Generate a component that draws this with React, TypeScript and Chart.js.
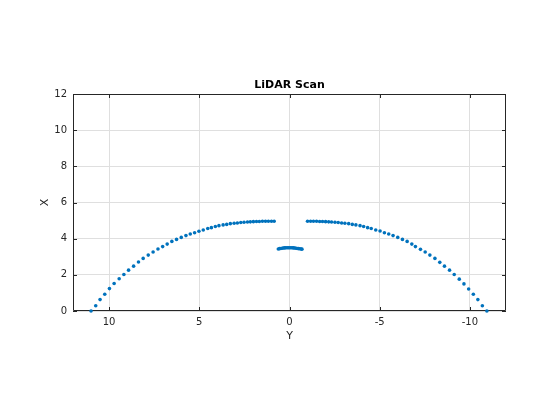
import React, { useEffect, useRef } from "react";
import { Chart, registerables } from "chart.js";

Chart.register(...registerables);

// Left wall arc (Y, X)
const leftY = [11.0, 10.74, 10.5, 10.24, 9.98, 9.72, 9.44, 9.18, 8.92, 8.64, 8.37, 8.11, 7.83, 7.56, 7.29, 7.03, 6.78, 6.52, 6.26, 6.0, 5.74, 5.5, 5.26, 5.02, 4.78, 4.53, 4.33, 4.11, 3.91, 3.68, 3.48, 3.28, 3.07, 2.89, 2.7, 2.52, 2.33, 2.17, 2.0, 1.83, 1.67, 1.5, 1.33, 1.17, 1.0, 0.85];
const leftX = [0.0, 0.29, 0.63, 0.93, 1.24, 1.52, 1.78, 2.02, 2.26, 2.48, 2.71, 2.91, 3.09, 3.26, 3.43, 3.56, 3.7, 3.85, 3.96, 4.07, 4.17, 4.26, 4.33, 4.41, 4.48, 4.56, 4.61, 4.67, 4.72, 4.76, 4.79, 4.83, 4.85, 4.87, 4.89, 4.91, 4.92, 4.93, 4.94, 4.95, 4.95, 4.96, 4.96, 4.96, 4.96, 4.96];

// Right wall arc (Y, X)
const rightY = [-1.0, -1.17, -1.33, -1.5, -1.67, -1.83, -2.0, -2.17, -2.33, -2.52, -2.7, -2.89, -3.07, -3.28, -3.48, -3.68, -3.91, -4.11, -4.33, -4.53, -4.78, -5.02, -5.26, -5.5, -5.74, -6.0, -6.26, -6.52, -6.78, -6.98, -7.26, -7.52, -7.78, -8.06, -8.33, -8.59, -8.87, -9.13, -9.41, -9.67, -9.93, -10.19, -10.44, -10.69, -10.94];
const rightX = [4.96, 4.96, 4.96, 4.96, 4.95, 4.95, 4.94, 4.93, 4.92, 4.91, 4.89, 4.87, 4.85, 4.83, 4.79, 4.76, 4.72, 4.67, 4.61, 4.56, 4.48, 4.42, 4.33, 4.26, 4.17, 4.07, 3.96, 3.85, 3.7, 3.56, 3.41, 3.26, 3.09, 2.91, 2.69, 2.48, 2.26, 2.02, 1.76, 1.5, 1.22, 0.93, 0.63, 0.29, 0.0];

// Small object in front
const midY = [0.62, 0.55, 0.48, 0.41, 0.34, 0.27, 0.2, 0.13, 0.06, -0.01, -0.08, -0.15, -0.22, -0.29, -0.36, -0.43, -0.5, -0.57, -0.64, -0.69];
const midX = [3.43, 3.45, 3.46, 3.47, 3.48, 3.49, 3.5, 3.5, 3.5, 3.5, 3.5, 3.5, 3.49, 3.48, 3.47, 3.46, 3.45, 3.44, 3.43, 3.42];

const xTicks = [10, 5, 0, -5, -10];
const yTicks = [0, 2, 4, 6, 8, 10, 12];

const titleText = "LiDAR Scan";
const xLabel = "Y";
const yLabel = "X";

const FONT = '"DejaVu Sans", sans-serif';
const TEXT = "#262626";

const boxPlugin = {
  id: "matlabBox",
  beforeDatasetsDraw(chart: any) {
    const { ctx, chartArea: a, scales } = chart;
    ctx.save();
    ctx.strokeStyle = TEXT;
    ctx.lineWidth = 1;
    ctx.beginPath();
    ctx.rect(a.left + 0.5, a.top + 0.5, a.right - a.left - 1, a.bottom - a.top - 1);
    ctx.stroke();
    const tl = 4;
    ctx.beginPath();
    for (const v of xTicks) {
      const px = Math.round(scales.x.getPixelForValue(v)) + 0.5;
      ctx.moveTo(px, a.bottom);
      ctx.lineTo(px, a.bottom - tl);
      ctx.moveTo(px, a.top);
      ctx.lineTo(px, a.top + tl);
    }
    for (const v of yTicks) {
      const py = Math.round(scales.y.getPixelForValue(v)) + 0.5;
      ctx.moveTo(a.left, py);
      ctx.lineTo(a.left + tl, py);
      ctx.moveTo(a.right, py);
      ctx.lineTo(a.right - tl, py);
    }
    ctx.stroke();
    ctx.restore();
  },
  afterDraw(chart: any) {
    const { ctx, chartArea: a } = chart;
    ctx.save();
    ctx.fillStyle = "#000";
    ctx.font = "bold 11px " + FONT;
    ctx.textAlign = "center";
    ctx.textBaseline = "alphabetic";
    ctx.fillText(titleText, (a.left + a.right) / 2, 88);
    ctx.fillStyle = TEXT;
    ctx.font = "11px " + FONT;
    ctx.textBaseline = "middle";
    ctx.fillText(xLabel, (a.left + a.right) / 2, 336);
    ctx.translate(45, (a.top + a.bottom) / 2);
    ctx.rotate(-Math.PI / 2);
    ctx.fillText(yLabel, 0, 0);
    ctx.restore();
  },
};

export default function App() {
  const ref = useRef<HTMLCanvasElement | null>(null);
  useEffect(() => {
    if (!ref.current) return;
    const pts: { x: number; y: number }[] = [];
    leftY.forEach((v, i) => pts.push({ x: v, y: leftX[i] }));
    midY.forEach((v, i) => pts.push({ x: v, y: midX[i] }));
    rightY.forEach((v, i) => pts.push({ x: v, y: rightX[i] }));
    const chart = new Chart(ref.current, {
      type: "scatter",
      data: {
        datasets: [
          {
            data: pts,
            backgroundColor: "#0072BD",
            borderColor: "#0072BD",
            pointRadius: 1.8,
            borderWidth: 0,
            clip: false as any,
          },
        ],
      },
      options: {
        animation: false,
        responsive: false,
        devicePixelRatio: 1,
        layout: { padding: { left: 0, right: 54, top: 94, bottom: 0 } },
        plugins: { legend: { display: false }, tooltip: { enabled: false }, title: { display: false } },
        scales: {
          x: {
            type: "linear",
            min: -12,
            max: 12,
            reverse: true,
            afterFit: (s: any) => {
              s.height = 109;
            },
            afterBuildTicks: (s: any) => {
              s.ticks = xTicks.map((v) => ({ value: v }));
            },
            grid: { color: "#dfdfdf", drawTicks: false, lineWidth: 1 },
            border: { display: false },
            ticks: { color: TEXT, font: { family: FONT, size: 10 }, padding: 5, maxRotation: 0 },
          },
          y: {
            type: "linear",
            min: 0,
            max: 12,
            afterFit: (s: any) => {
              s.width = 73;
            },
            afterBuildTicks: (s: any) => {
              s.ticks = yTicks.map((v) => ({ value: v }));
            },
            grid: { color: "#dfdfdf", drawTicks: false, lineWidth: 1 },
            border: { display: false },
            ticks: { color: TEXT, font: { family: FONT, size: 10 }, padding: 6 },
          },
        },
      },
      plugins: [boxPlugin],
    });
    return () => chart.destroy();
  }, []);
  return (
    <div style={{ position: "fixed", left: 0, top: 0, width: 560, height: 420, background: "#fff" }}>
      <canvas ref={ref} width={560} height={420} style={{ width: 560, height: 420 }} />
    </div>
  );
}
